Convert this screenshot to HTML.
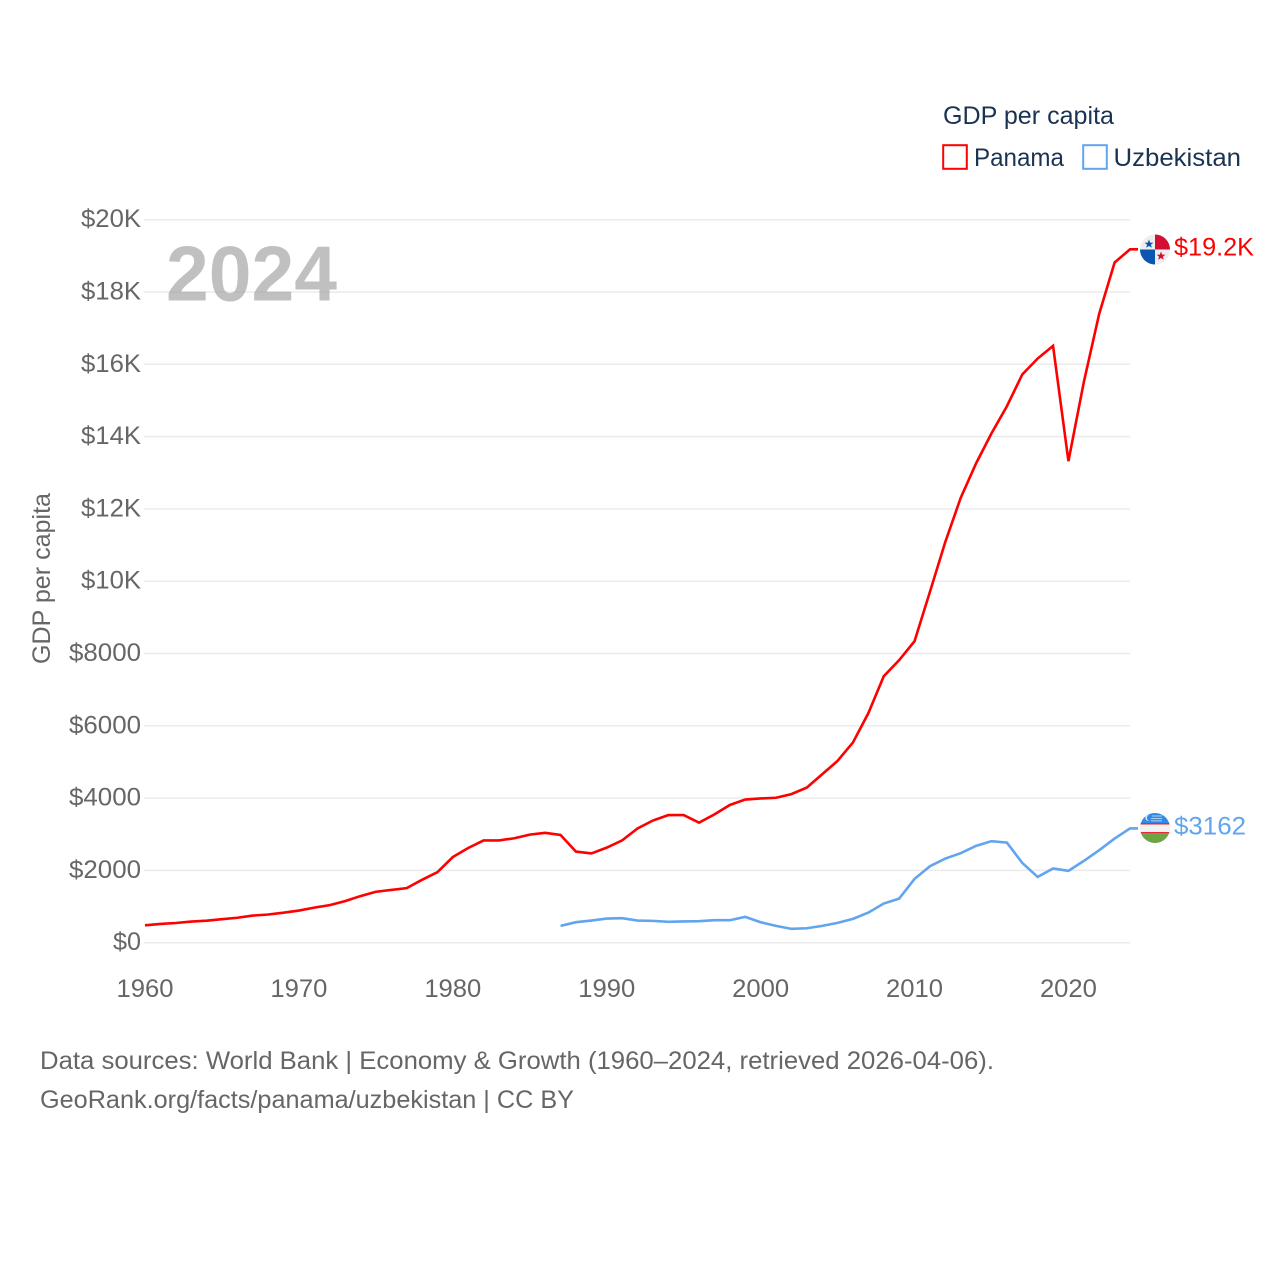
<!DOCTYPE html>
<html lang="en">
<head>
<meta charset="utf-8">
<title>GDP per capita: Panama and Uzbekistan</title>
<style>
html,body{margin:0;padding:0;background:#fff;}
svg{display:block;}
text{font-family:"Liberation Sans",sans-serif;}
</style>
</head>
<body>
<svg id="chart" xmlns="http://www.w3.org/2000/svg" width="1280" height="1280" viewBox="0 0 1280 1280">
  <rect width="1280" height="1280" fill="#fff"/>
  <g id="grid"></g>
  <g id="yticks"></g>
  <g id="xticks"></g>
  <text x="166" y="300.5" font-size="78" font-weight="bold" fill="#999" fill-opacity="0.62" textLength="171" lengthAdjust="spacingAndGlyphs">2024</text>
  <text transform="translate(50,664) rotate(-90)" font-size="25" fill="#666" textLength="171" lengthAdjust="spacingAndGlyphs">GDP per capita</text>
  <g id="series"></g>

  <g id="flag-panama">
    <clipPath id="clip-pa"><circle cx="1155" cy="249.5" r="15"/></clipPath>
    <g clip-path="url(#clip-pa)">
      <rect x="1140" y="234.5" width="30" height="30" fill="#eeeeee"/>
      <rect x="1155" y="234.5" width="15" height="15" fill="#d21034"/>
      <rect x="1140" y="249.5" width="15" height="15" fill="#0a55b0"/>
      <polygon points="1149,239.5 1150.2,242.6 1153.4,242.7 1150.9,244.7 1151.8,247.8 1149,246 1146.2,247.8 1147.1,244.7 1144.6,242.7 1147.8,242.6" fill="#0a55b0"/>
      <polygon points="1161,251.5 1162.2,254.6 1165.4,254.7 1162.9,256.7 1163.8,259.8 1161,258 1158.2,259.8 1159.1,256.7 1156.6,254.7 1159.8,254.6" fill="#d21034"/>
    </g>
  </g>
  <g id="flag-uzbekistan">
    <clipPath id="clip-uz"><circle cx="1155" cy="828" r="15"/></clipPath>
    <g clip-path="url(#clip-uz)">
      <rect x="1140" y="813" width="30" height="11" fill="#2f8be6"/>
      <rect x="1140" y="823" width="30" height="1.6" fill="#e8283c"/>
      <rect x="1140" y="824.6" width="30" height="7.4" fill="#f2f2f2"/>
      <rect x="1140" y="832" width="30" height="1.4" fill="#e8283c"/>
      <rect x="1140" y="833.4" width="30" height="10" fill="#6da544"/>
      <circle cx="1148" cy="818" r="2.6" fill="#f2f2f2"/>
      <circle cx="1149.2" cy="818" r="2.4" fill="#2f8be6"/>
      <rect x="1152" y="815.5" width="10" height="1" fill="#a9d0f7"/>
      <rect x="1151" y="818" width="11" height="1" fill="#a9d0f7"/>
      <rect x="1151" y="820.3" width="11" height="1" fill="#a9d0f7"/>
    </g>
  </g>

  <text id="value-panama" x="1174" y="255.5" font-size="25" fill="#ff0000" textLength="80" lengthAdjust="spacingAndGlyphs"></text>
  <text id="value-uzbekistan" x="1174" y="834.5" font-size="25" fill="#60a5ee" textLength="72" lengthAdjust="spacingAndGlyphs"></text>

  <g>
    <text x="943" y="124" font-size="25" fill="#1b3352" textLength="171" lengthAdjust="spacingAndGlyphs">GDP per capita</text>
    <rect x="943.2" y="145.2" width="23.6" height="23.6" fill="#fff" stroke="#ff0000" stroke-width="2"/>
    <text x="974" y="166" font-size="25" fill="#1b3352" textLength="90" lengthAdjust="spacingAndGlyphs">Panama</text>
    <rect x="1083.2" y="145.2" width="23.6" height="23.6" fill="#fff" stroke="#60a5ee" stroke-width="2"/>
    <text x="1113.5" y="166" font-size="25" fill="#1b3352" textLength="127.5" lengthAdjust="spacingAndGlyphs">Uzbekistan</text>
  </g>

  <text x="40" y="1069" font-size="25" fill="#666" textLength="954" lengthAdjust="spacingAndGlyphs">Data sources: World Bank | Economy &amp; Growth (1960–2024, retrieved 2026-04-06).</text>
  <text x="40" y="1108" font-size="25" fill="#666" textLength="534" lengthAdjust="spacingAndGlyphs">GeoRank.org/facts/panama/uzbekistan | CC BY</text>
</svg>
<script>
const panamaStartYear = 1960;
const panamaValues = [480,520,545,585,610,650,690,750,780,830,890,970,1040,1150,1290,1410,1460,1510,1740,1950,2370,2620,2830,2830,2890,2990,3040,2980,2520,2470,2630,2830,3160,3380,3530,3530,3320,3550,3810,3960,3990,4010,4110,4290,4660,5030,5540,6350,7370,7815,8340,9704,11087,12305,13260,14090,14840,15718,16160,16510,13320,15510,17400,18815,19180];
const uzbekistanStartYear = 1987;
const uzbekistanValues = [465,567,613,668,677,613,604,577,588,595,622,622,714,567,465,383,400,465,548,660,833,1083,1220,1765,2116,2328,2476,2680,2808,2770,2207,1820,2052,1988,2263,2560,2880,3162];
const yTickValues = [0,2000,4000,6000,8000,10000,12000,14000,16000,18000,20000];
const yTickLabels = ["$0","$2000","$4000","$6000","$8000","$10K","$12K","$14K","$16K","$18K","$20K"];
const yTickLabelWidths = [28,72,72,72,72,60,60,60,60,60,60];
const xTickYears = [1960,1970,1980,1990,2000,2010,2020];

const SVG_NS = 'http://www.w3.org/2000/svg';
const xScale = year => 145 + (year - 1960) * (1130 - 145) / 64;
const yScale = value => 942.7 - value * (942.7 - 219.7) / 20000;

const grid = document.getElementById('grid');
const yTicks = document.getElementById('yticks');
const xTicks = document.getElementById('xticks');
const seriesGroup = document.getElementById('series');

yTickValues.forEach((v, i) => {
  const line = document.createElementNS(SVG_NS, 'line');
  
  
  line.setAttribute('x1', 144);
  line.setAttribute('x2', 1130);
  line.setAttribute('y1', yScale(v));
  line.setAttribute('y2', yScale(v));
  line.setAttribute('stroke', '#ebebeb');
  line.setAttribute('stroke-width', 1.5);
  grid.appendChild(line);

  const label = document.createElementNS(SVG_NS, 'text');
  
  
  label.setAttribute('x', 141);
  label.setAttribute('y', yScale(v) + 7.5);
  label.setAttribute('text-anchor', 'end');
  label.setAttribute('font-size', 25);
  label.setAttribute('fill', '#666');
  label.setAttribute('textLength', yTickLabelWidths[i]);
  label.setAttribute('lengthAdjust', 'spacingAndGlyphs');
  label.textContent = yTickLabels[i];
  yTicks.appendChild(label);
});

xTickYears.forEach(year => {
  const label = document.createElementNS(SVG_NS, 'text');
  
  
  label.setAttribute('x', xScale(year));
  label.setAttribute('y', 997);
  label.setAttribute('text-anchor', 'middle');
  label.setAttribute('font-size', 25);
  label.setAttribute('fill', '#666');
  label.setAttribute('textLength', 57);
  label.setAttribute('lengthAdjust', 'spacingAndGlyphs');
  label.textContent = year;
  xTicks.appendChild(label);
});

function linePoints(startYear, values) {
  const pts = values.map((v, i) => xScale(startYear + i).toFixed(2) + ',' + yScale(v).toFixed(2));
  pts.push('1138,' + yScale(values[values.length - 1]).toFixed(2));
  return pts.join(' ');
}

const panamaLine = document.createElementNS(SVG_NS, 'polyline');


panamaLine.setAttribute('points', linePoints(panamaStartYear, panamaValues));
panamaLine.setAttribute('fill', 'none');
panamaLine.setAttribute('stroke', '#ff0000');
panamaLine.setAttribute('stroke-width', 2.6);
seriesGroup.appendChild(panamaLine);

const uzbekistanLine = document.createElementNS(SVG_NS, 'polyline');


uzbekistanLine.setAttribute('points', linePoints(uzbekistanStartYear, uzbekistanValues));
uzbekistanLine.setAttribute('fill', 'none');
uzbekistanLine.setAttribute('stroke', '#60a5ee');
uzbekistanLine.setAttribute('stroke-width', 2.6);
seriesGroup.appendChild(uzbekistanLine);

function formatValue(v) {
  return v >= 10000 ? '$' + (v / 1000).toFixed(1) + 'K' : '$' + Math.round(v);
}
document.getElementById('value-panama').textContent = formatValue(panamaValues[panamaValues.length - 1]);
document.getElementById('value-uzbekistan').textContent = formatValue(uzbekistanValues[uzbekistanValues.length - 1]);
</script>
</body>
</html>
